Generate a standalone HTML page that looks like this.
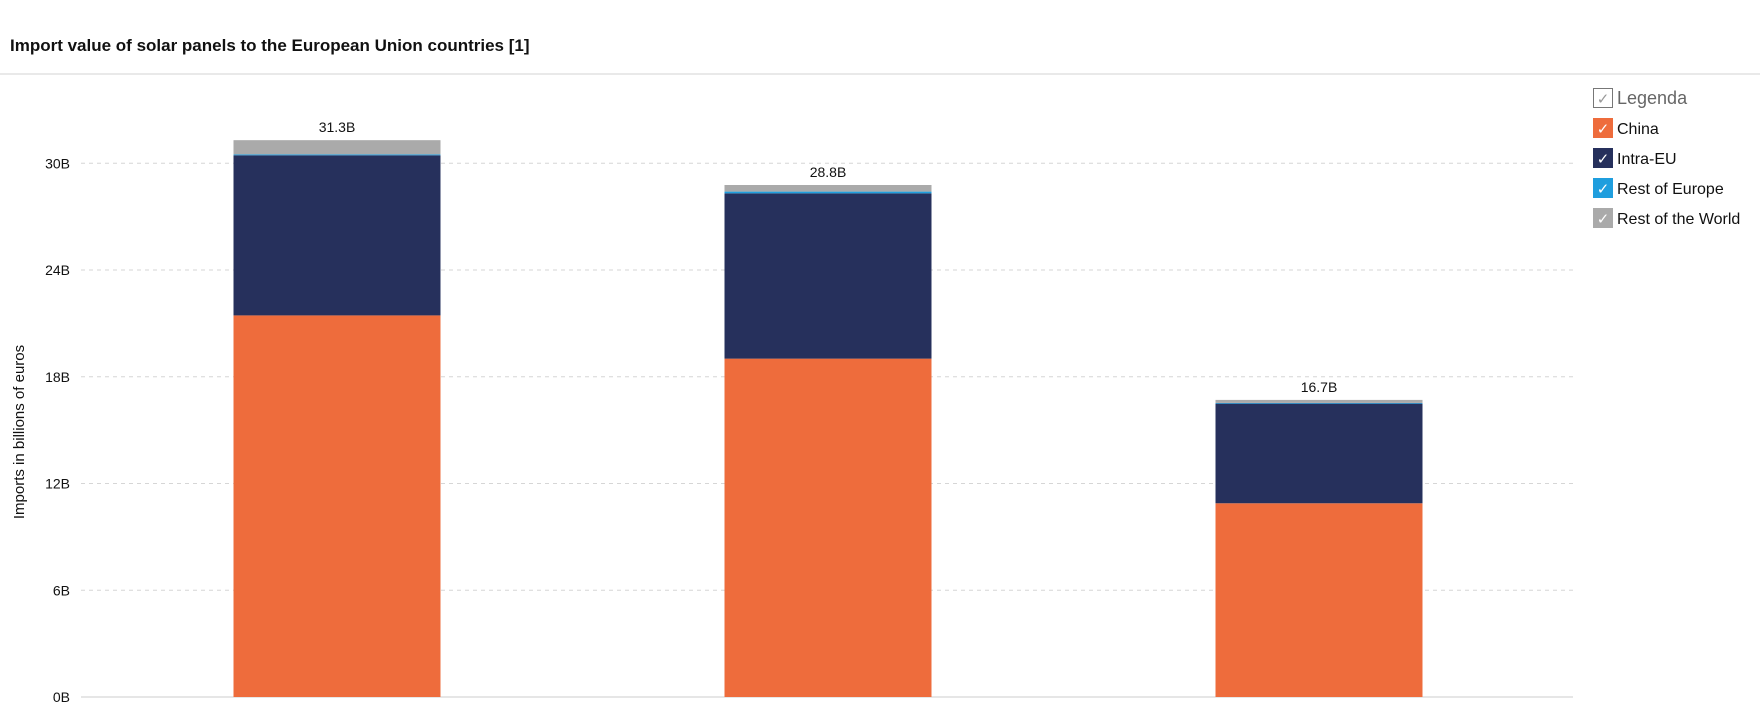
<!DOCTYPE html>
<html><head><meta charset="utf-8">
<style>
body{margin:0;background:#fff;font-family:"Liberation Sans",sans-serif;}
#wrap{position:relative;width:1760px;height:710px;overflow:hidden;}
</style></head>
<body>
<div id="wrap">
<svg id="chart" width="1760" height="710">
  <text x="10" y="51" font-size="17" font-weight="bold" fill="#111" font-family="Liberation Sans, sans-serif">Import value of solar panels to the European Union countries [1]</text>
  <line x1="0" y1="74" x2="1760" y2="74" stroke="#e2e2e2" stroke-width="1.5"/>
  <g id="grid"></g>
  <g id="bars"></g>
  <g id="labels"></g>
  <text transform="translate(24,432) rotate(-90)" text-anchor="middle" font-size="15" fill="#111">Imports in billions of euros</text>
  <g id="legend"></g>
</svg>
</div>
<script>
const categories = ["Period 1", "Period 2", "Period 3"];
const seriesNames = ["China", "Intra-EU", "Rest of Europe", "Rest of the World"];
const china = [21.45, 19.02, 10.89];
const intraEU = [9.0, 9.29, 5.6];
const restEurope = [0.05, 0.1, 0.04];
const restWorld = [0.8, 0.37, 0.17];
const totalLabels = ["31.3B", "28.8B", "16.7B"];
const yTicks = [0, 6, 12, 18, 24, 30];
const tickLabels = ["0B", "6B", "12B", "18B", "24B", "30B"];

const colors = ["#ee6c3c", "#26305c", "#1f9ede", "#aaaaaa"];
const NS = "http://www.w3.org/2000/svg";
const y0 = 697, pxPerUnit = 17.79;
function yScale(v){ return y0 - v * pxPerUnit; }
const firstCenter = 337, step = 491, barW = 207;
function xCenter(i){ return firstCenter + step * i; }
function mk(tag, attrs){ const e = document.createElementNS(NS, tag); for (const k in attrs) e.setAttribute(k, attrs[k]); return e; }

const grid = document.getElementById("grid");
yTicks.forEach((t, i) => {
  const y = yScale(t);
  const ln = mk("line", {x1: 81, x2: 1573, y1: y, y2: y, stroke: i === 0 ? "#cccccc" : "#d6d6d6", "stroke-dasharray": i === 0 ? "" : "4,4", "stroke-width": 1});
  
  
  grid.appendChild(ln);
  const tx = mk("text", {x: 70, y: y + 5, "text-anchor": "end", "font-size": 14, fill: "#111"});
  tx.textContent = tickLabels[i];
  
  
  grid.appendChild(tx);
});

const series = [china, intraEU, restEurope, restWorld];
const bars = document.getElementById("bars");
const labels = document.getElementById("labels");
categories.forEach((c, i) => {
  let acc = 0;
  series.forEach((s, k) => {
    const yTop = yScale(acc + s[i]);
    const yBot = yScale(acc);
    const r = mk("rect", {x: xCenter(i) - barW / 2, y: yTop, width: barW, height: Math.max(0, yBot - yTop), fill: colors[k]});
    
    
    bars.appendChild(r);
    acc += s[i];
  });
  const t = mk("text", {x: xCenter(i), y: yScale(acc) - 8, "text-anchor": "middle", "font-size": 14, fill: "#111"});
  t.textContent = totalLabels[i];
  
  
  labels.appendChild(t);
});

const legend = document.getElementById("legend");
const lx = 1593;
const head = mk("rect", {x: lx + 0.5, y: 88.5, width: 19, height: 19, fill: "#fff", stroke: "#777"});


legend.appendChild(head);
const hc = mk("text", {x: lx + 10, y: 104, "text-anchor": "middle", "font-size": 15, fill: "#999"});
hc.textContent = "✓";


legend.appendChild(hc);
const ht = mk("text", {x: lx + 24, y: 104, "font-size": 18, fill: "#666"});
ht.textContent = "Legenda";


legend.appendChild(ht);
seriesNames.forEach((n, k) => {
  const cy = 128 + 30 * k;
  const b = mk("rect", {x: lx, y: cy - 10, width: 20, height: 20, fill: colors[k]});
  
  
  legend.appendChild(b);
  const ck = mk("text", {x: lx + 10, y: cy + 6, "text-anchor": "middle", "font-size": 15, fill: "#fff"});
  ck.textContent = "✓";
  
  
  legend.appendChild(ck);
  const tx = mk("text", {x: lx + 24, y: cy + 6, "font-size": 16, fill: "#111"});
  tx.textContent = n;
  
  
  legend.appendChild(tx);
});
</script>
</body></html>
